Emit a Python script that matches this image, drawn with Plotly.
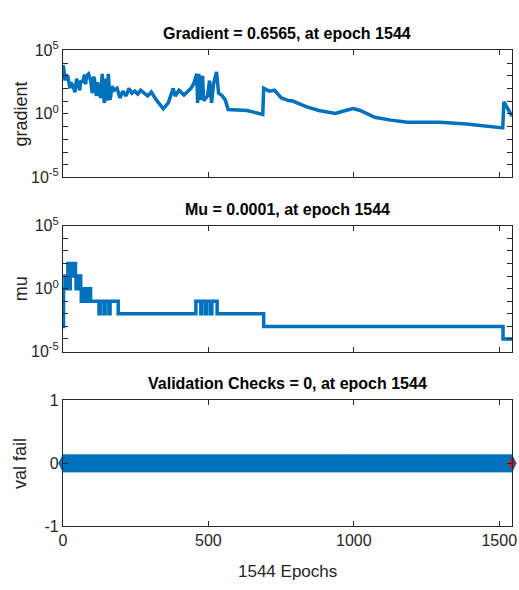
import numpy as np
import plotly.graph_objects as go

# ---------------- data ----------------
n_epochs = 1544

grad_epoch = [0, 3, 7, 10, 17, 24, 27, 34, 41, 47, 51, 58, 61, 68, 74, 78, 81, 88, 95, 101,
              105, 108, 115, 118, 122, 129, 135, 142, 149, 152, 156, 162, 169, 176, 186, 196,
              206, 217, 227, 237, 247, 257, 267, 281, 291, 304, 321, 345, 362, 379, 386, 399,
              416, 440, 450, 460, 463, 467, 474, 480, 484, 497, 504, 511, 518, 528, 535, 548,
              558, 568, 633, 687, 690, 710, 727, 751, 778, 788, 836, 880, 937, 971, 998, 1022,
              1072, 1127, 1184, 1296, 1387, 1512, 1516, 1544]
grad_log10 = [3.84, 3.53, 2.62, 3.08, 2.93, 2.01, 2.47, 2.24, 1.71, 2.77, 2.39, 1.86, 2.62,
              2.47, 3.08, 2.32, 3.00, 3.15, 2.62, 1.63, 2.93, 2.77, 1.41, 2.47, 2.24, 1.25,
              3.15, 0.87, 2.77, 1.03, 3.15, 1.10, 2.17, 1.86, 2.01, 1.25, 1.79, 1.41, 2.01,
              1.63, 1.79, 1.56, 1.86, 1.63, 1.41, 1.71, 1.10, 0.40, 0.87, 2.01, 1.41, 1.86,
              1.48, 2.01, 2.39, 3.15, 0.87, 3.15, 1.10, 3.00, 1.03, 1.41, 2.62, 0.87, 2.39,
              3.31, 1.63, 1.41, 1.10, 0.34, 0.27, -0.04, 2.01, 1.79, 1.86, 1.25, 1.03, 1.03,
              0.57, 0.27, 0.04, 0.27, 0.42, 0.27, -0.27, -0.49, -0.65, -0.65, -0.80, -1.10,
              0.95, -0.18]

mu_epoch = [0, 2, 7, 9, 11, 13, 15, 17, 19, 21, 23, 25, 27, 29, 31, 33, 35, 37, 39, 41, 43,
            45, 47, 49, 51, 53, 55, 57, 59, 61, 63, 65, 67, 69, 71, 73, 75, 77, 79, 81, 83,
            85, 87, 89, 91, 93, 95, 124, 128, 141, 145, 158, 162, 190, 457, 474, 478, 491,
            495, 508, 512, 530, 690, 1513, 1544]
mu_log10 = [-3, 0, 1, 0, 1, 0, 1, 2, 1, 2, 0, 2, 1, 2, 1, 2, 1, 2, 1, 2, 1,
            0, 1, 0, 1, 0, 1, 0, 1, 0, -1, 0, -1, 0, -1, 0, -1, 0, -1, 0, -1,
            0, -1, 0, -1, 0, -1, -2, -1, -2, -1, -2, -1, -2, -1, -2, -1, -2,
            -1, -2, -1, -2, -3, -4, -4]

val_epoch = list(range(n_epochs + 1))
val_fail = [0] * (n_epochs + 1)

titles = ["Gradient = 0.6565, at epoch 1544",
          "Mu = 0.0001, at epoch 1544",
          "Validation Checks = 0, at epoch 1544"]
ylabels = ["gradient", "mu", "val fail"]
x_ticks = [0, 500, 1000, 1500]
log_tickvals = [10.0 ** k for k in range(-5, 6)]
log_ticktext = ["10<sup>%d</sup>" % k if k in (-5, 0, 5) else "" for k in range(-5, 6)]

# ---------------- figure ----------------
W, H = 519, 590
BLUE = "#0072BD"
AX = "#262626"
FONT = "Liberation Sans, Arial, Helvetica, sans-serif"

x0, x1 = 60, 517
panels = [(40.7, 172.3), (222.3, 352.5), (403.0, 533.3)]
xdom = [x0 / W, x1 / W]
ydoms = [[1 - b / H, 1 - t / H] for t, b in panels]

fig = go.Figure()
fig.add_trace(go.Scatter(x=grad_epoch, y=list(10.0 ** np.array(grad_log10)),
                         mode="lines", line=dict(color=BLUE, width=3.5),
                         xaxis="x", yaxis="y", showlegend=False))
fig.add_trace(go.Scatter(x=mu_epoch, y=list(10.0 ** np.array(mu_log10, dtype=float)),
                         mode="lines", line=dict(color=BLUE, width=3.5, shape="hv"),
                         xaxis="x2", yaxis="y2", showlegend=False))
fig.add_trace(go.Scatter(x=val_epoch, y=val_fail, mode="lines+markers",
                         line=dict(color=BLUE, width=3),
                         marker=dict(symbol="diamond-tall", size=13, color=BLUE,
                                     line=dict(width=0)),
                         cliponaxis=False,
                         xaxis="x3", yaxis="y3", showlegend=False))
fig.add_trace(go.Scatter(x=[val_epoch[-1]], y=[val_fail[-1]], mode="markers",
                         marker=dict(symbol="diamond-tall", size=9, color="#FF0000",
                                     line=dict(width=0)),
                         cliponaxis=False,
                         xaxis="x3", yaxis="y3", showlegend=False))

common_x = dict(range=[0, n_epochs], domain=xdom, tickvals=x_ticks, ticks="inside",
                ticklen=5, tickcolor=AX, showline=True, linecolor=AX, linewidth=1,
                mirror="ticks", showgrid=False, zeroline=False,
                ticklabeloverflow="allow",
                tickfont=dict(family=FONT, size=16, color=AX))
common_ylog = dict(type="log", range=[-5, 5], tickvals=log_tickvals, ticktext=log_ticktext,
                   ticks="inside", ticklen=5, tickcolor=AX, showline=True, linecolor=AX,
                   linewidth=1, mirror="ticks", showgrid=False, zeroline=False,
                   tickfont=dict(family=FONT, size=16, color=AX))

layout = dict(
    width=W, height=H, margin=dict(l=0, r=0, t=0, b=0),
    paper_bgcolor="white", plot_bgcolor="white", showlegend=False,
    xaxis=dict(common_x, anchor="y", showticklabels=False),
    xaxis2=dict(common_x, anchor="y2", showticklabels=False, matches="x"),
    xaxis3=dict(common_x, anchor="y3", showticklabels=True, matches="x"),
    yaxis=dict(common_ylog, domain=ydoms[0], anchor="x"),
    yaxis2=dict(common_ylog, domain=ydoms[1], anchor="x2"),
    yaxis3=dict(range=[-1, 1], domain=ydoms[2], anchor="x3", tickvals=[-1, 0, 1],
                ticktext=["-1", "0", "1"], ticks="inside", ticklen=5, tickcolor=AX,
                showline=True, linecolor=AX, linewidth=1, mirror="ticks",
                showgrid=False, zeroline=False,
                tickfont=dict(family=FONT, size=16, color=AX)),
)
fig.update_layout(**layout)

annos = []
xc = (x0 + x1) / 2 / W
for (t, b), title, lab in zip(panels, titles, ylabels):
    annos.append(dict(text="<b>%s</b>" % title, x=xc, y=1 - (t - 17) / H,
                      xref="paper", yref="paper", showarrow=False,
                      xanchor="center", yanchor="middle",
                      font=dict(family=FONT, size=16, color="black")))
    annos.append(dict(text=lab, x=17 / W, y=1 - ((t + b) / 2) / H,
                      xref="paper", yref="paper", showarrow=False, textangle=-90,
                      xanchor="center", yanchor="middle",
                      font=dict(family=FONT, size=18, color=AX)))
annos.append(dict(text="%d Epochs" % n_epochs, x=xc, y=1 - 580 / H,
                  xref="paper", yref="paper", showarrow=False,
                  xanchor="center", yanchor="middle",
                  font=dict(family=FONT, size=17, color=AX)))
fig.update_layout(annotations=annos)

fig.write_html("out.html")
